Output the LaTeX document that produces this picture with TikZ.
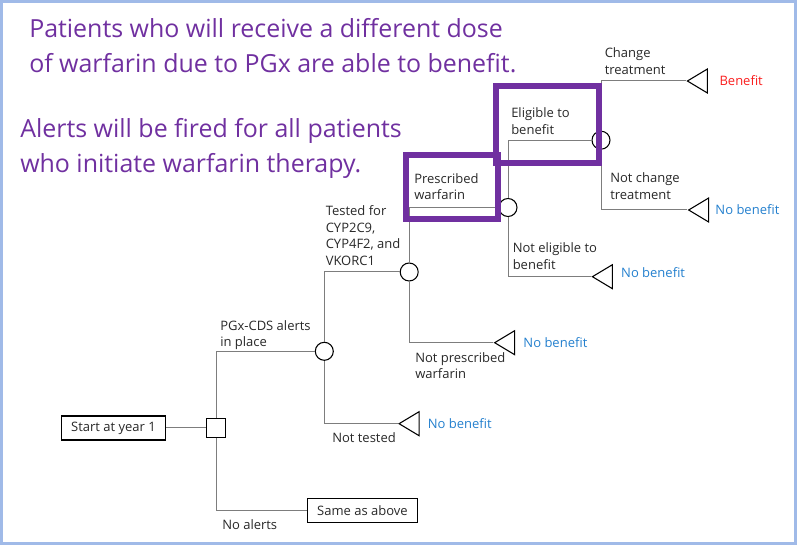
\documentclass[tikz,border=0pt]{standalone}
\usepackage{fontspec}
\setmainfont{Open Sans}
\usepackage{xcolor}
\usetikzlibrary{shapes.geometric,positioning}
\definecolor{alertpurple}{RGB}{112,48,160}
\definecolor{branchgray}{RGB}{125,125,125}
\definecolor{nobenefitblue}{RGB}{36,128,206}
\definecolor{benefitred}{RGB}{250,30,30}
\definecolor{frameblue}{RGB}{160,186,232}
\definecolor{labelgray}{RGB}{40,40,40}

\begin{document}
\begin{tikzpicture}[x=0.75pt,y=-0.75pt,
  chance/.style={circle, draw, line width=0.8pt, minimum size=13.5pt, inner sep=0pt, fill=white},
  decision/.style={rectangle, draw, line width=0.8pt, minimum size=14.25pt, inner sep=0pt, fill=white},
  terminal/.style={isosceles triangle, isosceles triangle stretches, shape border rotate=180,
    draw, line width=0.8pt, minimum width=18pt, minimum height=15pt, inner sep=0pt},
  endbox/.style={rectangle, draw, line width=0.8pt, minimum height=18pt, inner sep=0pt,
    font=\fontsize{9.75}{12}\selectfont, text=labelgray},
  branch/.style={draw=branchgray, line width=0.75pt},
  lbl/.style={font=\fontsize{9.75}{12.6}\selectfont, text=labelgray, align=left,
    anchor=north west, inner sep=0pt},
  outcome/.style={font=\fontsize{9.75}{12}\selectfont, inner sep=0pt},
  note/.style={font=\fontsize{18.7}{26.25}\selectfont, text=alertpurple, align=left,
    anchor=north west, inner sep=0pt},
  highlight/.style={draw=alertpurple, line width=4.5pt}]

  \useasboundingbox (0,0) rectangle (797,545);
  \draw[frameblue, line width=2.25pt] (1.5,1.5) rectangle (795.5,543.5);

  % Notes
  \node[note] (n1) at (29,18) {Patients who will receive a different dose\\of warfarin due to PGx are able to benefit.};
  \node[note] (n2) at (20,118.5) {Alerts will be fired for all patients\\who initiate warfarin therapy.};

  % Decision and chance nodes
  \node[endbox, minimum width=78pt] (start) at (113.5,428) {Start at year 1};
  \node[decision] (sq) at (216,428) {};
  \node[endbox, minimum width=82.5pt] (same) at (362.5,510.3) {Same as above};
  \node[chance] (c1) at (324.3,351.3) {};
  \node[chance] (c2) at (409.2,272) {};
  \node[chance] (c3) at (508,207.5) {};
  \node[chance] (c4) at (601,140.2) {};

  % Terminal nodes
  \node[terminal, anchor=apex] (tnt) at (397.7,423.7) {};
  \node[terminal, anchor=apex] (tnp) at (493.3,342.7) {};
  \node[terminal, anchor=apex] (tne) at (591,276.7) {};
  \node[terminal, anchor=apex] (tch) at (686,81) {};
  \node[terminal, anchor=apex] (tnc) at (687.3,210) {};

  \node[outcome, text=nobenefitblue, right=6pt of tnt] (ont) {No benefit};
  \node[outcome, text=nobenefitblue, right=6pt of tnp] (onp) {No benefit};
  \node[outcome, text=nobenefitblue, right=6pt of tne, yshift=3pt] (one) {No benefit};
  \node[outcome, text=benefitred, right=8.5pt of tch] (och) {Benefit};
  \node[outcome, text=nobenefitblue, right=4.5pt of tnc] (onc) {No benefit};

  % Branches
  \draw[branch] (start) -- (sq);
  \draw[branch] (sq) |- (c1);
  \draw[branch] (sq) |- (same);
  \draw[branch] (c1) |- (c2);
  \draw[branch] (c1) |- (tnt.apex);
  \draw[branch] (c2) |- (c3);
  \draw[branch] (c2) |- (tnp.apex);
  \draw[branch] (c3) |- (c4);
  \draw[branch] (c3) |- (tne.apex);
  \draw[branch] (c4) |- (tch.apex);
  \draw[branch] (c4) |- (tnc.apex);

  % Branch labels
  \node[lbl] (lcds) at (220,320) {PGx-CDS alerts\\in place};
  \node[lbl] (lno) at (222,519) {No alerts};
  \node[lbl] (ltest) at (325.5,205) {Tested for\\CYP2C9,\\CYP4F2, and\\VKORC1};
  \node[lbl] (lnt) at (332,432) {Not tested};
  \node[lbl] (lpres) at (414,173) {Prescribed\\warfarin};
  \node[lbl] (lnp) at (415,352) {Not prescribed\\warfarin};
  \node[lbl] (lel) at (511,107.5) {Eligible to\\benefit};
  \node[lbl] (lne) at (512.5,242.5) {Not eligible to\\benefit};
  \node[lbl] (lch) at (604.5,47.5) {Change\\treatment};
  \node[lbl] (lnc) at (610,172.5) {Not change\\treatment};

  % Highlights
  \draw[highlight] (406,155.5) rectangle (497.5,219.5);
  \draw[highlight] (496,86) rectangle (599,163);
\end{tikzpicture}
\end{document}
